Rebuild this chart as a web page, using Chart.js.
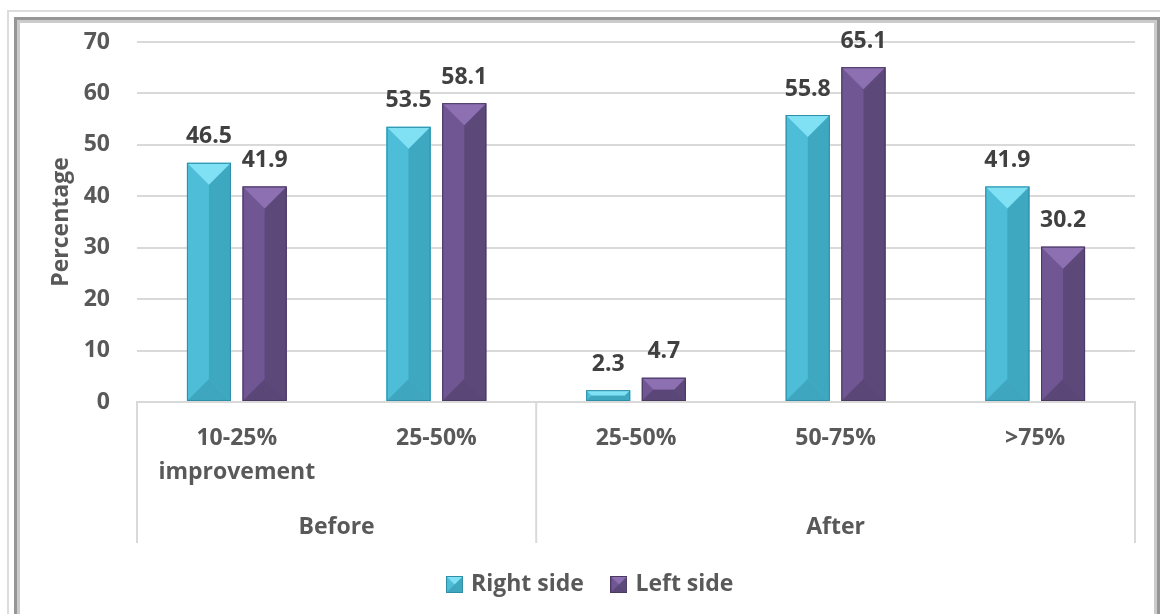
<!DOCTYPE html>
<html>
<head>
<meta charset="utf-8">
<script src="https://cdn.jsdelivr.net/npm/chart.js@4.4.1/dist/chart.umd.min.js"></script>
<style>
  html, body { margin: 0; padding: 0; background: #fff; }
  #wrap { position: relative; width: 1160px; height: 614px; overflow: hidden; background: #fff; }
  .frame-outer { position: absolute; left: 7px; top: 10px; width: 1170px; height: 640px;
                 border: 2px solid #dcdcdc; box-sizing: border-box; }
  .frame-inner { position: absolute; left: 14px; top: 17px; width: 1146px; height: 640px;
                 border: 3px solid #969696; box-shadow: inset 0 0 0 3px #cbcbcb; box-sizing: border-box; }
  #chart { position: absolute; left: 0; top: 0; }
</style>
</head>
<body>
<div id="wrap">
  <div class="frame-outer"></div>
  <div class="frame-inner"></div>
  <canvas id="chart" width="1160" height="614"></canvas>
</div>
<script>
// Improvement categories, grouped into Before / After
const categories = [['10-25%', 'improvement'], '25-50%', '25-50%', '50-75%', '>75%'];
const groupNames = ['Before', 'After'];
const groupSizes = [2, 3];

// Percentages per side
const rightSide = [46.5, 53.5, 2.3, 55.8, 41.9];
const leftSide  = [41.9, 58.1, 4.7, 65.1, 30.2];

const yTicks = [0, 10, 20, 30, 40, 50, 60, 70];

const FONT = '"Open Sans"';
const TEXT = '#595959';
const GRID = '#d9d9d9';

// Face colours for the bevelled bars: top, left, right, bottom, outline
const shades = [
  { top: '#80e0f4', left: '#4dbdd8', right: '#3fa8c1', bottom: '#3fa6bf', edge: '#2e8fa7' },
  { top: '#8c70b2', left: '#705793', right: '#5d487a', bottom: '#5b4678', edge: '#4a3a62' }
];

function poly(ctx, pts, color) {
  ctx.beginPath();
  ctx.moveTo(pts[0][0], pts[0][1]);
  for (let i = 1; i < pts.length; i++) ctx.lineTo(pts[i][0], pts[i][1]);
  ctx.closePath();
  ctx.fillStyle = color;
  ctx.fill();
}

function paintBevel(ctx, l, t, r, b, s) {
  const w = r - l, h = b - t;
  if (w <= 0 || h <= 0) return;
  const k = Math.min(w / 2, h / 2);
  ctx.save();
  ctx.fillStyle = s.left;
  ctx.fillRect(l, t, w, h);
  poly(ctx, [[l, t], [l + k, t + k], [l + k, b - k], [l, b]], s.left);
  poly(ctx, [[r, t], [r, b], [r - k, b - k], [r - k, t + k]], s.right);
  poly(ctx, [[l, b], [l + k, b - k], [r - k, b - k], [r, b]], s.bottom);
  poly(ctx, [[l, t], [r, t], [r - k, t + k], [l + k, t + k]], s.top);
  ctx.strokeStyle = s.edge;
  ctx.lineWidth = 1;
  ctx.strokeRect(l + 0.5, t + 0.5, w - 1, h - 1);
  ctx.restore();
}

function legendIcon(s) {
  const c = document.createElement('canvas');
  c.width = 17; c.height = 17;
  paintBevel(c.getContext('2d'), 0, 0, 17, 17, s);
  return c;
}
const legendIcons = shades.map(legendIcon);

// Bevelled bar faces, value labels, and the grouped category axis
const decorations = {
  id: 'decorations',
  afterDatasetsDraw(chart) {
    const ctx = chart.ctx;
    chart.data.datasets.forEach((ds, i) => {
      const meta = chart.getDatasetMeta(i);
      meta.data.forEach(bar => {
        const p = bar.getProps(['x', 'y', 'base', 'width'], true);
        paintBevel(ctx, p.x - p.width / 2, Math.min(p.y, p.base), p.x + p.width / 2, Math.max(p.y, p.base), shades[i]);
      });
    });
    ctx.save();
    ctx.font = 'bold 23px ' + FONT;
    ctx.fillStyle = '#404040';
    ctx.textAlign = 'center';
    ctx.textBaseline = 'middle';
    chart.data.datasets.forEach((ds, i) => {
      const meta = chart.getDatasetMeta(i);
      meta.data.forEach((bar, j) => {
        const p = bar.getProps(['x', 'y'], true);
        ctx.fillText(ds.data[j].toFixed(1), p.x, p.y - 26);
      });
    });
    ctx.restore();
  },
  afterDraw(chart) {
    const ctx = chart.ctx;
    const xs = chart.scales.x;
    const area = chart.chartArea;
    const lineBottom = 543;
    ctx.save();
    ctx.strokeStyle = GRID;
    ctx.lineWidth = 2;
    let start = 0;
    const bounds = [xs.getPixelForValue(-0.5)];
    groupSizes.forEach(n => {
      start += n;
      bounds.push(xs.getPixelForValue(start - 0.5));
    });
    bounds.forEach(x => {
      ctx.beginPath();
      ctx.moveTo(x, area.bottom);
      ctx.lineTo(x, lineBottom);
      ctx.stroke();
    });
    ctx.font = 'bold 23px ' + FONT;
    ctx.fillStyle = TEXT;
    ctx.textAlign = 'center';
    ctx.textBaseline = 'middle';
    let first = 0;
    groupNames.forEach((name, g) => {
      const last = first + groupSizes[g] - 1;
      ctx.fillText(name, xs.getPixelForValue((first + last) / 2), 527);
      first = last + 1;
    });
    ctx.restore();
  }
};

Chart.defaults.font.family = FONT;
Chart.defaults.font.weight = 'bold';
Chart.defaults.color = TEXT;

new Chart(document.getElementById('chart'), {
  type: 'bar',
  data: {
    labels: categories,
    datasets: [
      { label: 'Right side', data: rightSide, backgroundColor: shades[0].left,
        categoryPercentage: 0.558, barPercentage: 0.79 },
      { label: 'Left side', data: leftSide, backgroundColor: shades[1].left,
        categoryPercentage: 0.558, barPercentage: 0.79 }
    ]
  },
  options: {
    responsive: false,
    animation: false,
    events: [],
    layout: { padding: { left: 48, right: 25, top: 42, bottom: 8 } },
    scales: {
      x: {
        grid: { display: false, drawTicks: false },
        border: { display: true, color: GRID, width: 2 },
        ticks: {
          autoSkip: false, maxRotation: 0, minRotation: 0, padding: 19,
          color: TEXT, font: { size: 23, weight: 'bold', lineHeight: 1.5 }
        },
        afterFit(s) { s.height = 141; }
      },
      y: {
        min: 0, max: 70,
        grid: { color: GRID, lineWidth: 2, drawTicks: false },
        border: { display: false },
        ticks: { padding: 27, color: TEXT, font: { size: 23, weight: 'bold' } },
        afterBuildTicks(s) { s.ticks = yTicks.map(v => ({ value: v })); },
        title: { display: true, text: 'Percentage', color: TEXT, padding: 0,
                 font: { size: 23, weight: 'bold' } },
        afterFit(s) { s.width = 89; }
      }
    },
    plugins: {
      tooltip: { enabled: false },
      legend: {
        position: 'bottom',
        labels: {
          usePointStyle: true,
          pointStyleWidth: 10,
          padding: 30,
          color: TEXT,
          font: { size: 23, weight: 'bold' },
          generateLabels(chart) {
            const items = Chart.defaults.plugins.legend.labels.generateLabels(chart);
            items.forEach((it, i) => { it.pointStyle = legendIcons[i]; });
            return items;
          }
        }
      }
    }
  },
  plugins: [decorations]
});
</script>
</body>
</html>
